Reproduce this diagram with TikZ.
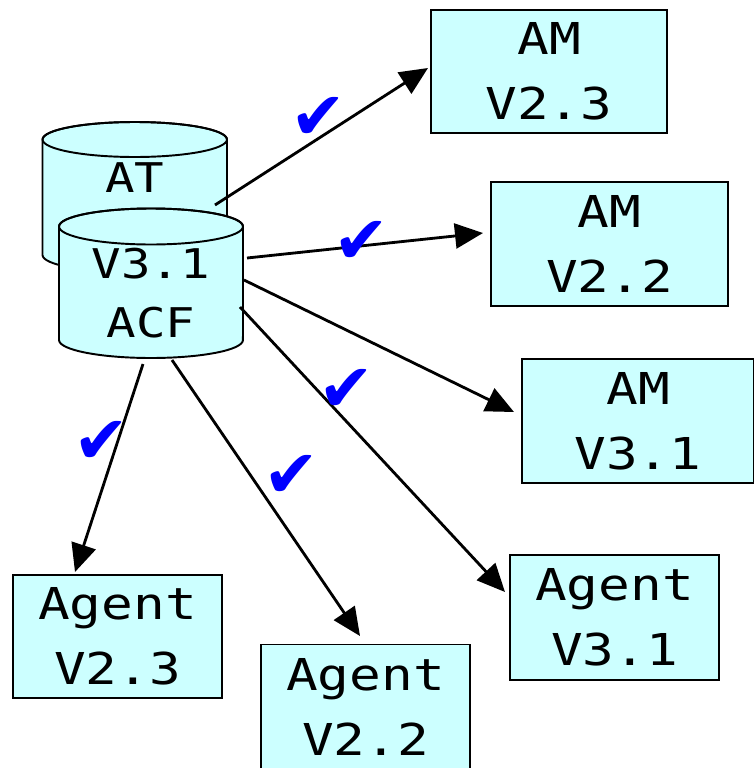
\documentclass[tikz,border=0pt]{standalone}
\usepackage{fontspec}
\usetikzlibrary{arrows.meta}
\newfontfamily\boxfont[FakeStretch=1.2]{DejaVu Sans Mono}
\newfontfamily\tickfont{DejaVu Sans}
\definecolor{boxfill}{HTML}{CCFFFF}
\definecolor{tickblue}{HTML}{0000FF}

\begin{document}
\begin{tikzpicture}[x=0.02cm,y=-0.02cm,
        every node/.style={inner sep=0pt},
        vbox/.style={draw,line width=1.1pt,fill=boxfill,align=center,font=\boxfont\fontsize{25}{37}\selectfont},
        dbtext/.style={align=center,font=\boxfont\fontsize{23.3}{33.6}\selectfont},
        dbbody/.style={draw,line width=1.1pt,fill=boxfill},
        flow/.style={line width=1.6pt,-{Triangle[length=0.56cm,width=0.5cm]}},
        okmark/.style={text=tickblue,font=\tickfont\fontsize{38}{38}\selectfont}]
                \useasboundingbox (0,0) rectangle (754,768);

                \draw[dbbody] (42.5,139.5) -- (42.5,255) arc[start angle=180,end angle=360,x radius=1.845cm,y radius=0.35cm]
                    -- (227,139.5) arc[start angle=0,end angle=180,x radius=1.845cm,y radius=0.35cm] -- cycle;
                \draw[line width=1.1pt] (134.75,139.5) ellipse [x radius=1.845cm,y radius=0.35cm];
                \node[dbtext] (at) at (135,178) {AT};

                \draw[dbbody] (59,226.5) -- (59,340) arc[start angle=180,end angle=360,x radius=1.84cm,y radius=0.36cm]
                    -- (243,226.5) arc[start angle=0,end angle=180,x radius=1.84cm,y radius=0.36cm] -- cycle;
                \draw[line width=1.1pt] (151,226.5) ellipse [x radius=1.84cm,y radius=0.36cm];
                \node[dbtext] (acf) at (151,293) {V3.1\\ACF};

                \node[vbox,minimum width=4.72cm,minimum height=2.46cm] (am23) at (549,71.5) {AM\\V2.3};
                \node[vbox,minimum width=4.74cm,minimum height=2.48cm] (am22) at (609.5,244) {AM\\V2.2};
                \node[vbox,minimum width=4.64cm,minimum height=2.48cm] (am31) at (638,421) {AM\\V3.1};
                \node[vbox,minimum width=4.18cm,minimum height=2.5cm] (ag31) at (614.5,617.5) {Agent\\V3.1};
                \node[vbox,minimum width=4.18cm,minimum height=2.46cm] (ag23) at (117.5,636.5) {Agent\\V2.3};
                \node[vbox,minimum width=4.18cm,minimum height=2.5cm] (ag22) at (365.5,707) {Agent\\V2.2};

                \coordinate (s1) at (215,205);
                \coordinate (s2) at (247,258);
                \coordinate (s3) at (244,280);
                \coordinate (s4) at (240,307);
                \coordinate (s5) at (143,364);
                \coordinate (s6) at (172,360);
                \coordinate (am23 in) at (428,68);
                \coordinate (am22 in) at (483,233);
                \coordinate (am31 in) at (514,412);
                \coordinate (ag31 in) at (505,592);
                \coordinate (ag23 in) at (75,572);
                \coordinate (ag22 in) at (360,636);

                \draw[flow] (s1) -- (am23 in);
                \draw[flow] (s2) -- (am22 in);
                \draw[flow] (s3) -- (am31 in);
                \draw[flow] (s4) -- (ag31 in);
                \draw[flow] (s5) -- (ag23 in);
                \draw[flow] (s6) -- (ag22 in);

                \node[okmark] (ok1) at (318,118) {✔};
                \node[okmark] (ok2) at (361,242) {✔};
                \node[okmark] (ok3) at (346,390) {✔};
                \node[okmark] (ok4) at (101,442) {✔};
                \node[okmark] (ok5) at (291,476) {✔};
            \end{tikzpicture}
\end{document}
